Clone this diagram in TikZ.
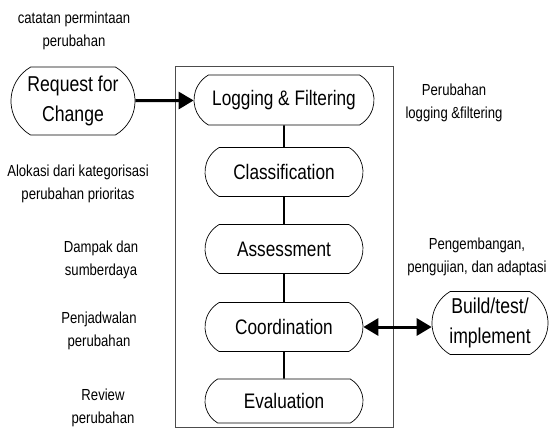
\documentclass[tikz,border=0pt]{standalone}
\usepackage{fontspec}
\setmainfont{Liberation Sans}[FakeStretch=0.82]
\usetikzlibrary{shapes.misc,arrows.meta}
\begin{document}
\begin{tikzpicture}[x=1pt,y=-1pt,
  stage/.style={draw, line width=0.7pt, rounded rectangle, rounded rectangle arc length=120,
    minimum width=158pt, minimum height=49pt, inner sep=0pt, font=\fontsize{21}{24}\selectfont},
  ext/.style={draw, line width=0.7pt, rounded rectangle, rounded rectangle arc length=120,
    inner sep=0pt, align=center, font=\fontsize{21.5}{30}\selectfont},
  lbl/.style={align=center, inner sep=0pt, font=\fontsize{16}{22.5}\selectfont},
  link/.style={line width=1.8pt},
  bigarrow/.style={line width=3pt},
  tip/.tip={Triangle[length=15pt,width=17pt]}]
\useasboundingbox (0,0) rectangle (551,437);
\draw[gray!60!black, line width=1pt] (175,66) rectangle (393,427);

\node[stage, minimum width=180pt, minimum height=50pt] (log) at (284,100) {Logging \& Filtering};
\node[stage] (cls) at (284,172) {Classification};
\node[stage] (ass) at (284,249) {Assessment};
\node[stage] (coo) at (284,327) {Coordination};
\node[stage, minimum height=44pt] (eva) at (284,401) {Evaluation};

\node[ext, minimum width=124pt, minimum height=68pt] (req) at (73,101) {Request for\\Change};
\node[ext, minimum width=116pt, minimum height=63pt] (bld) at (490,323) {Build/test/\\implement};

\draw[link] (log) -- (cls);
\draw[link] (cls) -- (ass);
\draw[link] (ass) -- (coo);
\draw[link] (coo) -- (eva);

\draw[bigarrow, -tip] (req) -- (log);
\draw[bigarrow, tip-tip] (coo.east) -- (coo.east -| bld.west);

\node[lbl] (t1) at (74,31) {catatan permintaan\\perubahan};
\node[lbl] (t2) at (454,103) {Perubahan\\logging \&filtering};
\node[lbl] (t3) at (78,184) {Alokasi dari kategorisasi\\perubahan prioritas};
\node[lbl] (t4) at (101,260) {Dampak dan\\sumberdaya};
\node[lbl] (t5) at (99,331) {Penjadwalan\\perubahan};
\node[lbl] (t6) at (103,408) {Review\\perubahan};
\node[lbl] (t7) at (477,257) {Pengembangan,\\pengujian, dan adaptasi};
\end{tikzpicture}
\end{document}
